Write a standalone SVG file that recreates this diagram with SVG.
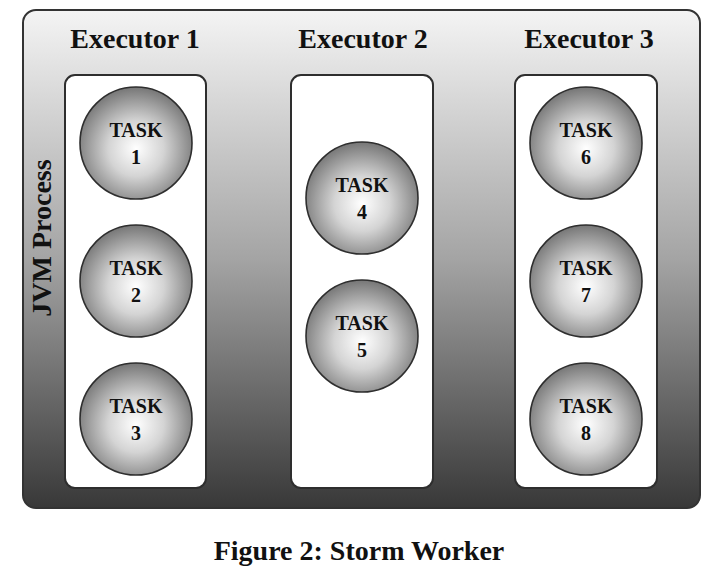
<svg xmlns="http://www.w3.org/2000/svg" width="718" height="568" viewBox="0 0 718 568">
<style>
.exbox{fill:#ffffff;stroke:#2e2e2e;stroke-width:2}
.task{fill:url(#ball);stroke:#2e2e2e;stroke-width:1.6}
.t{font-family:"Liberation Serif","Times New Roman",serif;font-weight:bold;fill:#111;text-anchor:middle}
.tl{font-size:20px}
.hd{font-size:28px}
</style>
<defs>
<linearGradient id="bg" x1="0" y1="0" x2="0" y2="1">
<stop offset="0" stop-color="#f4f4f4"/>
<stop offset="0.5" stop-color="#a4a4a4"/>
<stop offset="1" stop-color="#383838"/>
</linearGradient>
<radialGradient id="ball" cx="0.5" cy="0.55" r="0.55">
<stop offset="0" stop-color="#ffffff"/>
<stop offset="0.45" stop-color="#d4d4d4"/>
<stop offset="1" stop-color="#767676"/>
</radialGradient>
</defs>
<rect width="718" height="568" fill="#ffffff"/>
<g id="jvm">
<rect x="23" y="10" width="677" height="498" rx="13" fill="url(#bg)" stroke="#333" stroke-width="2"/>
<text class="t" font-size="28" transform="translate(51,238) rotate(-90)">JVM Process</text>
</g>
<g id="executor1">
<text class="t hd" x="135" y="48">Executor 1</text>
<rect class="exbox" x="65" y="75" width="141" height="413" rx="10"/>
</g>
<g id="executor2">
<text class="t hd" x="363" y="48">Executor 2</text>
<rect class="exbox" x="291" y="75" width="142" height="413" rx="10"/>
</g>
<g id="executor3">
<text class="t hd" x="589" y="48">Executor 3</text>
<rect class="exbox" x="515" y="75" width="142" height="413" rx="10"/>
</g>
<g id="task1"><circle class="task" cx="136" cy="143" r="56"/><text class="t tl" x="136" y="137">TASK</text><text class="t tl" x="136" y="164">1</text></g>
<g id="task2"><circle class="task" cx="136" cy="281" r="56"/><text class="t tl" x="136" y="275">TASK</text><text class="t tl" x="136" y="302">2</text></g>
<g id="task3"><circle class="task" cx="136" cy="419" r="56"/><text class="t tl" x="136" y="413">TASK</text><text class="t tl" x="136" y="440">3</text></g>
<g id="task4"><circle class="task" cx="362" cy="198" r="56"/><text class="t tl" x="362" y="192">TASK</text><text class="t tl" x="362" y="219">4</text></g>
<g id="task5"><circle class="task" cx="362" cy="336" r="56"/><text class="t tl" x="362" y="330">TASK</text><text class="t tl" x="362" y="357">5</text></g>
<g id="task6"><circle class="task" cx="586" cy="143" r="56"/><text class="t tl" x="586" y="137">TASK</text><text class="t tl" x="586" y="164">6</text></g>
<g id="task7"><circle class="task" cx="586" cy="281" r="56"/><text class="t tl" x="586" y="275">TASK</text><text class="t tl" x="586" y="302">7</text></g>
<g id="task8"><circle class="task" cx="586" cy="419" r="56"/><text class="t tl" x="586" y="413">TASK</text><text class="t tl" x="586" y="440">8</text></g>
<g id="connectors"></g>
<text class="t" font-size="28" x="359" y="560">Figure 2: Storm Worker</text>
</svg>
